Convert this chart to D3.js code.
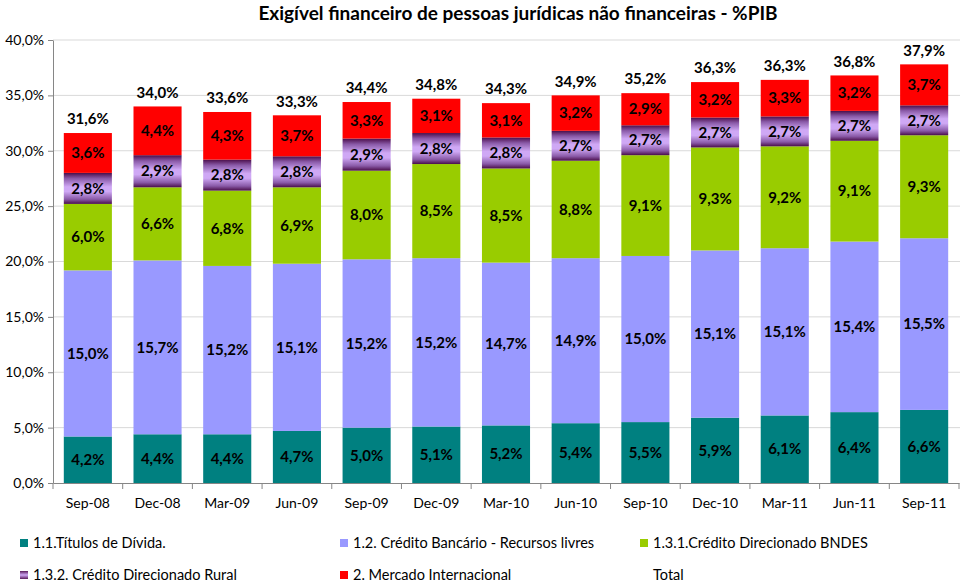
<!DOCTYPE html>
<html><head><meta charset="utf-8">
<script src="https://cdn.jsdelivr.net/npm/d3@7"></script>
<style>body{margin:0;background:#fff}svg{display:block;font-family:Lato,"Open Sans",sans-serif}</style>
</head><body><svg id="c" width="960" height="582"></svg>
<script>
const categories=["Sep-08","Dec-08","Mar-09","Jun-09","Sep-09","Dec-09","Mar-10","Jun-10","Sep-10","Dec-10","Mar-11","Jun-11","Sep-11"];
const titulos=[4.2,4.4,4.4,4.7,5.0,5.1,5.2,5.4,5.5,5.9,6.1,6.4,6.6];
const livres=[15.0,15.7,15.2,15.1,15.2,15.2,14.7,14.9,15.0,15.1,15.1,15.4,15.5];
const bndes=[6.0,6.6,6.8,6.9,8.0,8.5,8.5,8.8,9.1,9.3,9.2,9.1,9.3];
const rural=[2.8,2.9,2.8,2.8,2.9,2.8,2.8,2.7,2.7,2.7,2.7,2.7,2.7];
const mercado=[3.6,4.4,4.3,3.7,3.3,3.1,3.1,3.2,2.9,3.2,3.3,3.2,3.7];
const total=[31.6,34.0,33.6,33.3,34.4,34.8,34.3,34.9,35.2,36.3,36.3,36.8,37.9];
const yTicks=[0,5,10,15,20,25,30,35,40];
const seriesNames=["1.1.Títulos de Dívida.","1.2. Crédito Bancário - Recursos livres","1.3.1.Crédito Direcionado  BNDES","1.3.2. Crédito Direcionado Rural","2. Mercado Internacional","Total"];

(function(){
const svg=d3.select("#c");
const defs=svg.append("defs");
const g=defs.append("linearGradient").attr("id","rural").attr("x1",0).attr("y1",0).attr("x2",0).attr("y2",1);
[[0,"#4a0d4a"],[0.18,"#8a5aa8"],[0.45,"#cfa8f5"],[0.6,"#cfa8f5"],[0.85,"#8a5aa8"],[1,"#4a0d4a"]].forEach(s=>g.append("stop").attr("offset",s[0]).attr("stop-color",s[1]));
const lg=defs.append("linearGradient").attr("id","ruralL").attr("x1",0).attr("y1",0).attr("x2",0).attr("y2",1);
[[0,"#5a1a5a"],[0.5,"#cfa8f5"],[1,"#5a1a5a"]].forEach(s=>lg.append("stop").attr("offset",s[0]).attr("stop-color",s[1]));

const colors=["#008080","#9999ff","#99cc00","url(#rural)","#ff0000"];
const legendColors=["#008080","#9999ff","#99cc00","url(#ruralL)","#ff0000",null];
const L=53,R=959,T=40,B=483;
const x=d3.scaleBand().domain(categories).range([L,R]).paddingInner(0.31).paddingOuter(0.155);
const y=d3.scaleLinear().domain([0,40]).range([B,T]);

svg.append("g").selectAll("line").data(yTicks.filter(d=>d>0)).join("line")
 .attr("x1",L).attr("x2",R+1).attr("y1",d=>y(d)).attr("y2",d=>y(d))
 .attr("stroke","#d9d9d9").attr("stroke-width",1);

const rows=categories.map((c,i)=>({cat:c,titulos:titulos[i],livres:livres[i],bndes:bndes[i],rural:rural[i],mercado:mercado[i]}));
const keys=["titulos","livres","bndes","rural","mercado"];
const stack=d3.stack().keys(keys)(rows);

const fmt=v=>v.toFixed(1).replace(".",",")+"%";
stack.forEach((layer,li)=>{
  const gg=svg.append("g");
  gg.selectAll("rect").data(layer).join("rect")
   .attr("x",d=>x(d.data.cat)).attr("width",x.bandwidth())
   .attr("y",d=>y(d[1])).attr("height",d=>y(d[0])-y(d[1]))
   .attr("fill",colors[li]);
  gg.selectAll("text").data(layer).join("text")
   .attr("x",d=>x(d.data.cat)+x.bandwidth()/2).attr("y",d=>(y(d[0])+y(d[1]))/2)
   .attr("dy","0.35em").attr("text-anchor","middle")
   .attr("font-weight","bold").attr("font-size",15).attr("fill","#000")
   .text(d=>fmt(d.data[keys[li]]));
});
svg.append("g").selectAll("text").data(categories).join("text")
 .attr("x",c=>x(c)+x.bandwidth()/2)
 .attr("y",(c,i)=>y(stack[4][i][1])-14).attr("dy","0.35em")
 .attr("text-anchor","middle").attr("font-weight","bold").attr("font-size",15)
 .text((c,i)=>fmt(total[i]));

const ya=svg.append("g").attr("transform",`translate(${L},0)`)
 .call(d3.axisLeft(y).tickValues(yTicks).tickSize(5).tickSizeOuter(0).tickFormat(d=>d.toFixed(1).replace(".",",")+"%"));
ya.select(".domain").attr("stroke","#868686");
ya.selectAll(".tick line").attr("stroke","#868686");
ya.selectAll("text").attr("font-size",14).attr("font-family","Lato,sans-serif").attr("fill","#000").attr("x",-9);

const xa=svg.append("g").attr("transform",`translate(0,${B})`)
 .call(d3.axisBottom(x).tickSize(0).tickSizeOuter(0));
xa.select(".domain").attr("stroke","#868686");
xa.selectAll("text").attr("font-size",14).attr("font-family","Lato,sans-serif").attr("fill","#000").attr("dy","1.55em");
const step=x.step();
const bounds=d3.range(categories.length+1).map(i=>L+i*step);
xa.append("g").selectAll("line").data(bounds).join("line")
 .attr("x1",d=>d).attr("x2",d=>d).attr("y1",0).attr("y2",6).attr("stroke","#868686");

svg.append("text").attr("x",518).attr("y",20).attr("text-anchor","middle")
 .attr("font-weight","bold").attr("font-size",19).text("Exigível financeiro de pessoas jurídicas não financeiras - %PIB");

const legPos=[[20,543],[340,543],[640,543],[20,575],[340,575],[640,575]];
const leg=svg.append("g");
seriesNames.forEach((n,i)=>{
  const [lx,ly]=legPos[i];
  if(legendColors[i]) leg.append("rect").attr("x",lx).attr("y",ly-4).attr("width",8).attr("height",8).attr("fill",legendColors[i]);
  leg.append("text").attr("x",lx+13).attr("y",ly).attr("dy","0.35em").attr("font-size",14.5).text(n);
});
})();
</script></body></html>
